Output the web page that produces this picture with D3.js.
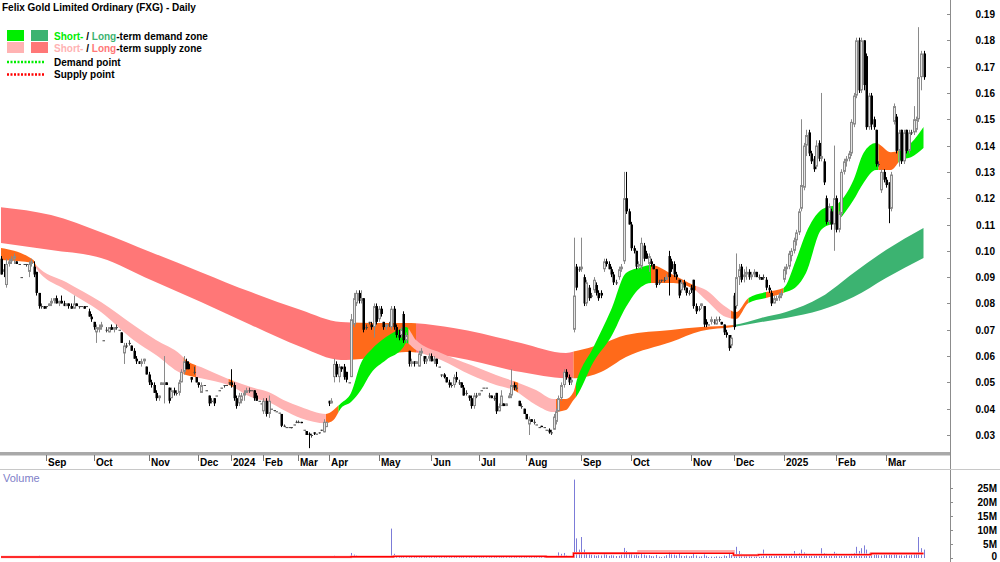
<!DOCTYPE html>
<html><head><meta charset="utf-8">
<script src="https://cdn.jsdelivr.net/npm/d3@7"></script>
<style>body{margin:0;background:#fff}svg{display:block;font-family:'Liberation Sans',Arial,sans-serif}</style>
</head><body><svg id="c" width="1000" height="562"></svg>
<script>
// ---------- DATA ----------
const title = "Felix Gold Limited Ordinary (FXG) - Daily";
const monthLabels = ["Sep","Oct","Nov","Dec","2024","Feb","Mar","Apr","May","Jun","Jul","Aug","Sep","Oct","Nov","Dec","2025","Feb","Mar"];
const monthStart = [18,37,59,79,92,105,119,131,151,172,191,210,232,252,276,293,313,334,354];
const priceTicks = [19,18,17,16,15,14,13,12,11,10,9,8,7,6,5,4,3]; // cents
const volTicks = [0,5,10,15,20,25]; // millions
const volTickLabels = ["0","5M","10M","15M","20M","25M"];

// daily bars [open, high, low, close] in cents
const bars = [
// Aug 2023
[9.7,9.8,9.1,9.1],[9.3,9.5,9.0,9.2],[8.7,9.7,8.6,9.5],[9.5,9.7,9.4,9.6],[9.6,9.8,9.5,9.7],[9.7,9.9,9.5,9.8],[9.6,9.6,9.5,9.5],[9.5,9.5,9.5,9.5],[9.0,9.0,9.0,9.0],[9.5,9.5,9.5,9.5],[9.5,9.5,9.4,9.5],[9.2,9.6,9.0,9.5],[9.5,9.7,9.4,9.6],[9.4,9.6,9.0,9.1],[9.2,9.2,8.3,8.4],[8.4,8.4,7.8,7.9],[7.9,8.0,7.8,7.9],[7.9,7.9,7.8,7.8],
// Sep 2023
[7.9,7.9,7.8,7.9],[7.9,8.0,7.9,8.0],[8.0,8.2,7.9,8.1],[8.1,8.2,8.0,8.2],[8.2,8.3,8.0,8.0],[8.0,8.1,7.9,8.1],[8.1,8.3,8.0,8.0],[8.0,8.1,7.9,7.9],[7.9,8.0,7.9,8.0],[8.0,8.0,7.8,7.9],[7.9,8.0,7.8,7.8],[7.8,8.3,7.8,8.0],[8.0,8.0,7.9,7.9],[7.9,7.9,7.8,7.9],[7.9,7.9,7.9,7.9],[7.9,7.9,7.8,7.8],[7.9,7.9,7.9,7.9],[7.7,7.8,7.5,7.5],[7.5,7.6,7.3,7.4],
// Oct 2023
[7.3,7.3,7.0,7.1],[6.9,7.2,6.5,7.1],[7.0,7.2,6.9,7.1],[7.1,7.3,7.0,7.2],[6.6,6.6,6.6,6.6],[7.0,7.1,6.9,7.0],[6.9,7.1,6.9,7.1],[7.1,7.2,7.0,7.0],[7.0,7.1,6.9,7.1],[7.1,7.2,7.0,7.1],[7.0,7.0,7.0,7.0],[6.9,6.9,6.5,6.5],[6.1,6.5,5.7,6.4],[6.4,6.5,6.3,6.4],[6.5,6.6,6.4,6.5],[6.4,6.4,6.2,6.2],[6.2,6.3,5.9,5.9],[5.9,6.0,5.7,5.8],[5.8,5.8,5.7,5.7],[5.7,5.9,5.6,5.8],[5.8,5.9,5.7,5.9],[5.6,5.6,5.3,5.3],
// Nov 2023
[5.3,5.4,4.9,5.0],[5.0,5.1,4.8,4.9],[4.9,5.0,4.6,4.6],[4.6,4.7,4.3,4.4],[4.4,4.5,4.3,4.5],[4.9,5.0,4.9,5.0],[4.9,6.0,4.2,5.0],[5.0,5.0,4.9,4.9],[4.8,4.8,4.2,4.3],[4.4,4.8,4.4,4.7],[4.7,4.8,4.5,4.6],[4.6,4.7,4.5,4.6],[4.6,5.1,4.5,5.0],[5.0,5.5,5.0,5.4],[5.4,6.0,5.3,5.8],[5.8,5.9,5.5,5.5],[5.7,5.8,5.5,5.5],[5.2,5.2,5.0,5.1],[5.4,5.6,5.3,5.4],[5.2,5.2,5.0,5.0],
// Dec 2023
[5.0,5.0,4.8,4.9],[4.6,5.0,4.6,4.9],[4.9,4.9,4.9,4.9],[4.7,4.7,4.7,4.7],[4.5,4.5,4.1,4.2],[4.3,4.4,4.2,4.3],[4.4,4.4,4.1,4.2],[4.5,4.5,4.5,4.5],[4.7,4.7,4.7,4.7],[4.8,4.8,4.8,4.8],[4.9,4.9,4.8,4.9],[4.9,4.9,4.9,4.9],[5.0,5.0,4.9,5.0],
// Jan 2024
[5.0,5.5,4.8,4.9],[4.9,5.0,4.3,4.4],[4.4,4.5,4.0,4.1],[4.2,4.6,4.1,4.5],[4.3,4.6,4.2,4.5],[4.5,4.7,4.3,4.6],[4.6,4.8,4.6,4.7],[4.7,4.8,4.6,4.7],[4.7,4.7,4.7,4.7],[4.7,4.7,4.3,4.4],[4.5,4.6,4.3,4.3],[4.3,4.3,4.3,4.3],[4.2,4.2,4.2,4.2],
// Feb 2024
[3.9,4.4,3.8,4.3],[4.3,4.4,3.7,3.8],[3.8,4.5,3.65,4.3],[4.0,4.0,4.0,4.0],[3.95,3.95,3.9,3.95],[3.9,3.9,3.9,3.9],[3.85,3.85,3.85,3.85],[3.8,3.8,3.3,3.35],[3.35,3.4,3.3,3.35],[3.3,3.3,3.3,3.3],[3.3,3.3,3.3,3.3],[3.3,3.3,3.25,3.3],[3.4,3.4,3.4,3.4],[3.5,3.55,3.45,3.5],
// Mar 2024
[3.5,3.55,3.45,3.5],[3.5,3.5,3.45,3.45],[3.2,3.2,3.2,3.2],[3.15,3.15,3.0,3.0],[3.05,3.1,2.5,3.0],[3.0,3.05,2.9,3.0],[3.1,3.1,3.0,3.05],[3.05,3.05,3.05,3.05],[3.1,3.1,3.05,3.1],[3.2,3.2,3.15,3.2],[3.1,3.6,3.1,3.5],[3.3,3.5,3.3,3.5],
// Apr 2024
[4.3,4.3,4.1,4.2],[4.2,4.4,4.2,4.3],[5.2,5.9,5.0,5.7],[5.7,5.8,5.2,5.3],[5.2,5.7,5.0,5.6],[5.6,5.6,5.4,5.5],[5.6,5.7,5.1,5.2],[5.4,5.4,5.0,5.1],[5.0,5.0,5.0,5.0],[5.2,7.6,5.2,7.4],[7.2,8.4,7.1,8.2],[8.0,8.5,7.9,8.4],[8.4,8.5,8.0,8.1],[8.1,8.5,8.0,8.2],[8.2,8.2,6.9,7.0],[7.1,7.2,7.0,7.1],[7.3,7.3,7.2,7.3],[7.2,7.3,7.0,7.1],[7.1,8.0,6.7,7.9],[7.9,8.0,7.2,7.3],
// May 2024
[7.4,7.9,7.3,7.8],[7.8,7.9,7.5,7.6],[7.3,7.3,7.0,7.1],[7.1,7.2,7.0,7.2],[7.2,7.3,7.1,7.2],[7.1,7.9,7.0,7.8],[7.8,7.9,7.0,7.1],[7.1,7.2,6.7,6.8],[6.8,7.0,6.6,6.7],[6.8,7.1,6.7,7.0],[7.6,7.7,6.5,6.6],[6.6,6.9,6.5,6.8],[6.2,6.2,5.6,5.7],[5.7,5.9,5.6,5.8],[5.8,5.8,5.6,5.7],[5.7,5.8,5.7,5.8],[5.6,6.2,5.6,6.1],[6.1,6.3,6.0,6.2],[6.0,6.0,5.7,5.8],[5.8,6.0,5.7,5.9],[5.9,6.1,5.8,6.0],
// Jun 2024
[6.0,6.1,5.8,5.8],[5.8,6.0,5.7,5.9],[5.9,5.9,5.6,5.7],[5.6,5.6,5.6,5.6],[5.3,5.3,5.2,5.3],[5.3,5.35,5.15,5.2],[5.2,5.2,5.0,5.0],[5.0,5.1,4.8,4.9],[4.9,5.0,4.8,4.9],[4.9,5.3,4.8,5.2],[5.2,5.4,5.0,5.1],[5.0,5.1,4.9,5.0],[5.0,5.0,4.8,4.8],[4.8,4.9,4.5,4.5],[4.6,4.7,4.5,4.6],[4.5,4.5,4.3,4.4],[4.4,4.5,4.0,4.1],[4.1,4.6,4.0,4.5],[4.5,4.6,4.4,4.5],
// Jul 2024
[4.5,4.6,4.5,4.6],[4.7,4.7,4.7,4.7],[4.8,4.8,4.8,4.8],[4.8,4.8,4.8,4.8],[4.5,4.6,4.4,4.5],[4.5,4.5,4.4,4.4],[4.4,4.5,4.3,4.4],[4.6,4.6,3.8,3.9],[3.9,4.2,3.9,4.1],[4.1,4.7,4.1,4.5],[4.2,4.2,4.1,4.1],[4.1,4.2,4.1,4.2],[4.4,4.6,4.4,4.5],[4.5,5.5,4.4,4.9],[4.9,5.0,4.7,4.8],[4.8,4.9,4.7,4.8],[4.3,4.3,4.1,4.1],[4.1,4.2,4.0,4.1],[4.0,4.0,3.8,3.8],
// Aug 2024
[3.8,3.8,3.6,3.6],[3.4,3.7,3.0,3.6],[3.6,3.6,3.5,3.5],[3.5,3.6,3.4,3.5],[3.4,3.4,3.4,3.4],[3.3,3.3,3.3,3.3],[3.35,3.35,3.3,3.3],[3.3,3.3,3.3,3.3],[3.2,3.2,3.2,3.2],[3.2,3.25,3.05,3.1],[3.1,3.2,3.0,3.1],[3.2,3.8,3.2,3.7],[3.5,4.0,3.4,3.9],[3.9,4.5,3.9,4.4],[4.4,5.0,4.3,4.9],[4.9,5.5,4.8,5.4],[5.4,5.5,5.1,5.2],[5.2,5.3,4.9,5.0],[5.0,5.2,4.9,5.1],[7.0,10.5,6.9,8.3],[9.4,9.5,8.5,8.6],[9.3,9.4,9.2,9.3],
// Sep 2024
[9.3,10.5,9.2,9.4],[9.0,9.1,7.9,8.0],[8.0,8.9,7.9,8.8],[8.6,8.7,8.1,8.2],[8.3,8.4,8.2,8.3],[8.5,9.0,8.4,8.9],[8.7,8.8,8.3,8.4],[8.4,8.5,8.1,8.2],[8.4,8.5,8.2,8.3],[9.3,9.7,9.2,9.6],[9.6,9.7,9.4,9.5],[9.5,9.6,9.3,9.3],[9.3,9.4,9.0,9.1],[9.1,9.2,8.7,8.8],[8.8,8.9,8.7,8.8],[9.0,9.4,8.9,9.3],[9.3,9.5,9.2,9.4],[9.6,13.0,9.5,12.0],[12.0,13.0,11.4,11.5],[11.5,11.6,11.0,11.0],
// Oct 2024
[11.0,11.1,10.0,10.1],[10.1,10.2,9.9,10.0],[10.0,10.0,9.3,9.4],[9.4,9.6,9.3,9.5],[9.4,10.5,9.3,10.3],[10.2,10.3,9.6,9.7],[9.9,10.0,9.7,9.7],[9.5,9.9,9.2,9.8],[9.6,9.7,9.4,9.5],[9.5,9.5,9.3,9.3],[9.3,9.3,8.6,8.7],[8.8,8.9,8.7,8.8],[8.9,8.9,8.8,8.9],[8.9,9.0,8.8,8.9],[8.9,9.1,8.9,9.0],[9.8,10.0,8.3,9.0],[9.6,9.7,9.2,9.3],[9.5,9.6,9.0,9.1],[9.1,9.2,8.9,9.0],[8.9,8.9,8.2,8.3],[8.5,8.9,8.4,8.8],[8.8,8.9,8.5,8.6],[8.6,8.6,8.3,8.4],[8.4,8.5,8.3,8.4],
// Nov 2024
[8.6,8.7,8.4,8.5],[8.9,8.9,7.8,7.9],[7.9,8.0,7.6,7.7],[7.8,7.9,7.7,7.8],[7.9,8.0,7.8,8.0],[7.9,7.9,7.1,7.2],[7.3,7.4,7.1,7.2],[7.2,7.2,7.2,7.2],[7.3,7.5,7.2,7.4],[7.3,7.4,7.2,7.3],[7.2,7.5,7.2,7.4],[7.4,7.5,7.3,7.4],[7.3,7.3,7.2,7.2],[7.2,7.2,6.8,6.9],[6.9,7.0,6.7,6.8],[6.8,6.8,6.2,6.3],[6.4,6.8,6.3,6.7],
// Dec 2024
[8.3,8.4,7.0,7.1],[7.9,9.9,7.8,9.0],[9.0,9.5,8.7,9.3],[9.4,9.5,8.8,8.9],[9.0,9.3,8.8,9.1],[9.1,9.4,8.9,9.2],[9.2,9.3,8.9,9.0],[9.0,9.2,8.9,9.1],[9.1,9.3,9.0,9.2],[9.2,9.2,9.0,9.0],[9.0,9.1,8.9,9.0],[9.0,9.0,8.9,8.9],[9.0,9.1,8.9,9.0],[8.9,9.0,8.5,8.6],[8.6,8.7,8.4,8.5],[8.4,8.5,7.9,8.0],[8.0,8.3,8.0,8.2],[8.1,8.3,8.1,8.2],[8.2,8.4,8.1,8.3],[8.3,8.5,8.2,8.4],
// Jan 2025
[8.9,9.4,8.8,9.3],[9.3,9.5,9.1,9.4],[9.4,10.0,9.3,9.9],[9.8,10.1,9.6,10.0],[10.0,10.5,9.9,10.4],[10.4,10.8,10.2,10.7],[10.7,11.6,10.6,11.5],[11.6,15.0,11.5,12.5],[12.4,14.1,12.3,14.0],[14.0,14.6,13.6,14.4],[14.5,14.6,13.6,13.7],[13.7,13.8,13.3,13.4],[13.5,13.6,13.0,13.1],[13.2,14.2,13.1,14.0],[14.1,14.2,13.4,13.5],[13.5,16.0,13.4,13.6],[13.4,13.5,12.5,12.6],[12.0,12.1,11.0,11.1],[11.1,11.8,11.0,11.7],[11.5,11.6,10.8,11.0],[11.0,14.0,10.0,12.0],
// Feb 2025
[12.0,12.1,10.7,10.8],[10.8,11.5,10.7,11.4],[11.4,13.1,11.3,13.0],[13.0,13.5,12.9,13.4],[13.4,13.6,13.2,13.5],[13.5,13.8,13.4,13.7],[13.7,15.0,13.6,14.9],[14.8,16.0,14.7,15.9],[15.9,18.1,15.8,18.0],[18.0,18.1,16.0,16.1],[16.1,18.1,16.0,18.0],[18.0,18.0,16.1,16.3],[17.4,17.5,14.6,14.7],[14.7,16.0,14.6,15.9],[15.9,16.0,14.6,14.8],[15.0,15.1,14.6,14.7],[14.6,14.6,13.2,13.3],[13.3,13.4,13.2,13.3],[12.3,13.1,12.2,13.0],[13.0,13.1,12.6,12.7],
// Mar 2025
[12.7,12.8,12.4,12.5],[12.6,12.6,11.05,11.6],[11.6,13.0,11.5,12.9],[14.9,15.6,14.8,15.5],[15.1,15.2,13.7,13.8],[13.8,14.6,13.2,14.5],[14.6,14.6,13.3,13.4],[13.4,14.6,13.3,14.5],[14.6,14.6,13.7,13.8],[13.8,14.6,13.7,14.5],[14.5,14.6,14.4,14.5],[14.5,15.5,14.4,15.0],[14.6,15.1,14.5,15.0],[15.0,18.5,14.9,16.6],[16.6,17.6,16.1,17.5],[17.5,17.6,16.5,16.6]
];

// daily volume, millions
const volume = [
0.2,0.3,0.1,0.2,0.1,0.1,0.1,0.05,0.1,0.1,0.2,0.1,0.3,0.2,0.6,0.8,0.3,0.2,
0.2,0.4,0.2,0.1,0.3,0.1,0.2,0.1,0.1,0.2,0.1,0.3,0.1,0.1,0.05,0.1,0.2,0.3,0.4,
0.3,0.5,0.2,0.1,0.05,0.1,0.2,0.1,0.1,0.1,0.05,0.4,0.3,0.2,0.1,0.4,0.3,0.2,0.1,0.2,0.3,0.4,
0.4,0.3,0.5,0.4,0.2,0.1,0.5,0.1,0.4,0.3,0.2,0.1,0.3,0.4,0.6,0.3,0.3,0.1,0.2,0.2,
0.2,0.3,0.05,0.05,0.4,0.2,0.3,0.05,0.05,0.05,0.1,0.05,0.1,
0.3,0.4,0.5,0.3,0.2,0.2,0.1,0.1,0.05,0.3,0.2,0.05,0.05,
0.3,0.3,0.4,0.05,0.05,0.05,0.05,0.3,0.1,0.05,0.05,0.05,0.05,0.1,
0.1,0.1,0.05,0.3,0.4,0.1,0.1,0.05,0.05,0.1,0.5,0.4,
0.1,0.2,0.8,0.5,0.4,0.2,0.4,0.3,0.05,1.8,1.2,0.9,0.6,0.4,0.7,0.2,0.1,0.2,0.6,0.5,
0.4,0.3,0.3,0.2,0.2,10.5,1.5,0.6,0.4,0.3,0.6,0.3,0.9,0.4,0.2,0.2,0.5,0.4,0.3,0.2,0.3,
0.4,0.3,0.4,0.1,0.2,0.2,0.3,0.5,0.2,0.4,0.3,0.2,0.3,0.5,0.3,0.3,0.6,0.5,0.2,
0.2,0.05,0.05,0.05,0.2,0.1,0.2,0.7,0.3,0.6,0.1,0.1,0.3,0.9,0.4,0.2,0.4,0.2,0.4,
0.5,0.6,0.2,0.3,0.05,0.05,0.1,0.05,0.05,0.3,0.2,0.6,0.8,2.0,1.5,1.8,0.9,0.7,0.5,28,7.0,3.0,
7.5,3.0,2.0,1.5,1.2,1.0,0.8,1.0,0.9,1.6,1.2,0.8,1.0,0.9,0.7,0.8,1.2,3.6,2.5,1.5,
1.4,1.0,1.2,0.8,1.5,1.2,0.9,1.0,0.7,0.6,1.1,0.5,0.4,0.6,1.0,2.0,1.3,1.2,0.9,1.5,0.8,0.7,0.9,0.6,
0.7,1.4,0.9,0.5,0.6,1.3,0.8,0.3,0.5,0.4,0.6,0.5,0.4,0.9,0.7,1.6,1.0,
1.2,4.0,2.5,1.5,1.0,0.8,0.9,0.6,0.5,0.6,0.4,0.5,3.0,1.2,1.4,0.8,0.6,0.7,0.9,1.0,
1.2,1.0,1.4,1.5,2.5,1.2,1.8,3.0,2.0,1.5,1.2,0.9,1.0,1.4,1.1,3.5,1.8,1.5,1.2,1.0,2.2,
1.6,1.2,1.4,1.0,0.9,1.2,1.5,1.8,4.0,2.5,3.5,4.5,3.0,1.8,1.5,1.2,1.4,1.0,0.9,1.2,
1.0,1.3,1.1,1.5,1.2,0.9,1.0,0.8,1.1,0.9,1.2,1.5,1.8,7.5,3.5,3.0
];

// volume averages (bar index -> millions)
const volAvgIdx = [0,140,157,218,229,293,303,348,369];
const volAvgVal = [0.35,0.45,0.6,0.45,1.7,1.0,1.2,1.6,1.6];
const volAvg2Idx = [0,140,157,218,229,255,293,303,348,369];
const volAvg2Val = [0.35,0.45,0.6,0.45,1.7,2.4,1.0,1.2,1.6,1.6];

// long-term zone (bar index, upper, lower in cents)
const longIdx = [0,20,40,60,80,100,120,136,148,162,181,208,226,230,240,250,268,280,293,304,314,328,341,354,369];
const longHi  = [11.66,11.36,10.71,9.95,9.19,8.43,7.75,7.29,7.26,7.26,7.07,6.50,6.12,6.19,6.46,6.80,6.99,7.10,7.18,7.45,7.67,8.24,9.16,10.03,10.87];
const longLo  = [10.30,10.03,9.73,8.89,8.05,7.18,6.34,5.85,5.93,6.15,5.96,5.39,5.16,5.16,5.39,5.96,6.53,6.95,7.10,7.29,7.45,7.75,8.24,8.97,9.73];
// short-term zone
const shortIdx = [0,13,14,26,40,53,62,72,74,80,92,100,107,113,120,130,133,136,140,144,148,154,161,162,166,176,188,198,205,214,221,226,229,230,237,244,250,256,260,269,277,282,290,294,299,306,313,318,322,328,335,341,345,350,356,360,364,369];
const shortHi  = [10.11,9.65,9.46,8.81,8.05,7.18,6.61,6.04,5.85,5.58,5.09,4.82,4.63,4.33,4.06,3.80,3.95,4.21,4.60,5.74,6.23,6.72,7.07,7.10,6.61,6.12,5.66,5.28,5.05,4.71,4.37,4.37,4.63,4.97,6.34,7.75,9.16,9.38,9.46,9.08,8.70,8.51,7.86,7.67,8.21,8.43,8.59,9.65,10.68,11.55,11.82,12.69,13.72,14.10,13.75,13.83,14.10,14.71];
const shortLo  = [9.65,9.54,9.35,8.51,7.67,6.61,6.04,5.35,5.28,5.16,4.86,4.44,4.25,3.95,3.64,3.45,3.57,4.02,4.25,4.71,5.35,5.85,6.34,6.50,6.23,5.85,5.28,4.90,4.71,4.14,3.87,3.95,4.33,4.44,5.77,6.72,7.86,8.62,8.78,8.78,8.55,8.13,7.48,7.41,8.02,8.21,8.40,8.62,9.16,10.79,11.17,11.93,12.58,13.07,13.07,13.45,13.56,13.91];

// zone state runs: [fromBar, toBar, state]  S=supply, N=neutral, D=demand
const longRuns = [[0,140,"S"],[140,166,"N"],[166,229,"S"],[229,293,"N"],[293,369,"D"]];
const shortRuns = [[0,14,"N"],[14,73,"S"],[73,78,"N"],[78,91,"S"],[91,93,"N"],[93,130,"S"],[130,135,"N"],[135,163,"D"],[163,205,"S"],[205,207,"N"],[207,222,"S"],[222,230,"N"],[230,260,"D"],[260,278,"N"],[278,292,"S"],[292,299,"N"],[299,306,"D"],[306,313,"N"],[313,333,"D"],[333,335,"N"],[335,351,"D"],[351,359,"N"],[359,369,"D"]];

// ---------- STYLE ----------
const C = {
  shortD:"#00ee00", longD:"#3cb371", shortS:"#ffb3b3", longS:"#ff7777", neutral:"#ff6a1a",
  axis:"#8c8c8c", upStroke:"#8a8a8a", upFill:"#e4e4e4", down:"#000", vol:"#7c7cd8"
};

const svg = d3.select("#c");
const defs = svg.append("defs");
const N = bars.length;
const x = d3.scaleLinear().domain([0, N-1]).range([1, 1 + (N-1)*2.5]);
const y = d3.scaleLinear().domain([3, 19]).range([435, 14]);
const yv = d3.scaleLinear().domain([0, 25]).range([558, 488]);

// ---------- BANDS ----------
const gBands = svg.append("g");
function drawBand(idx, hi, lo, runs, colors, id){
  const pts = idx.map((d,k)=>({i:d, hi:hi[k], lo:lo[k]}));
  const area = d3.area().x(d=>x(d.i)).y0(d=>y(d.lo)).y1(d=>y(d.hi)).curve(d3.curveMonotoneX);
  const p = area(pts);
  runs.forEach((r,k)=>{
    const cid = id + k;
    const x0 = r[0]===0 ? 0 : x(r[0]);
    const x1 = r[1]===N-1 ? 940 : x(r[1]);
    defs.append("clipPath").attr("id",cid).append("rect")
      .attr("x",x0).attr("y",0).attr("width",x1-x0).attr("height",452);
    gBands.append("path").attr("d",p).attr("fill",colors[r[2]]).attr("clip-path",`url(#${cid})`);
  });
}
drawBand(longIdx,longHi,longLo,longRuns,{S:C.longS,N:C.neutral,D:C.longD},"lc");
drawBand(shortIdx,shortHi,shortLo,shortRuns,{S:C.shortS,N:C.neutral,D:C.shortD},"sc");

// ---------- CANDLES ----------
const gC = svg.append("g");
bars.forEach((b,i)=>{
  const [o,h,l,c] = b;
  const cx = Math.round(x(i));
  const up = c > o;
  const col = up ? C.upStroke : (c===o ? "#444" : C.down);
  gC.append("line").attr("x1",cx+0.5).attr("x2",cx+0.5).attr("y1",y(h)).attr("y2",y(l))
    .attr("stroke",col).attr("stroke-width",1);
  const top = y(Math.max(o,c)), hgt = Math.max(1, Math.abs(y(o)-y(c)));
  if (up) {
    gC.append("rect").attr("x",cx-0.5).attr("y",top+0.5).attr("width",2).attr("height",Math.max(0.5,hgt-1))
      .attr("fill",C.upFill).attr("stroke",col).attr("stroke-width",1);
  } else {
    gC.append("rect").attr("x",cx-0.5).attr("y",top).attr("width",2.5).attr("height",hgt)
      .attr("fill",col);
  }
});

// ---------- PRICE AXIS ----------
svg.append("rect").attr("x",0).attr("y",452).attr("width",951).attr("height",3.5).attr("fill","#a9a9a9");
svg.append("line").attr("x1",950.5).attr("x2",950.5).attr("y1",0).attr("y2",562).attr("stroke",C.axis);
svg.append("line").attr("x1",0).attr("x2",1000).attr("y1",469.5).attr("y2",469.5).attr("stroke","#c8c8c8");
priceTicks.forEach(t=>{
  const yy = Math.round(y(t))+0.5;
  svg.append("line").attr("x1",947).attr("x2",950).attr("y1",yy).attr("y2",yy).attr("stroke",C.axis);
  svg.append("text").attr("x",995).attr("y",yy+3.5).attr("text-anchor","end")
    .attr("font-size","10px").attr("font-weight","bold").attr("fill","#000")
    .text(d3.format(".2f")(t/100));
});

// ---------- DATE AXIS ----------
monthStart.forEach((m,k)=>{
  const tx = Math.round(x(m)) + 0.5;
  svg.append("line").attr("x1",tx).attr("x2",tx).attr("y1",455).attr("y2",461).attr("stroke","#777");
  svg.append("text").attr("x",tx+1.5).attr("y",466).attr("font-size","10px").attr("font-weight","bold")
    .attr("fill","#000").text(monthLabels[k]);
});

// ---------- VOLUME ----------
const gV = svg.append("g");
volume.forEach((v,i)=>{
  const cx = Math.round(x(i)) + 0.5;
  gV.append("line").attr("x1",cx).attr("x2",cx).attr("y1",yv(0)).attr("y2",Math.min(yv(0)-1,yv(v)))
    .attr("stroke",C.vol).attr("stroke-width",1);
});
const avgLine = d3.line().x(d=>x(d[0])).y(d=>yv(d[1])).curve(d3.curveStepAfter);
svg.append("path").attr("d",avgLine(volAvg2Idx.map((d,k)=>[d,volAvg2Val[k]])))
  .attr("fill","none").attr("stroke","#ffaaaa").attr("stroke-width",2.5);
svg.append("path").attr("d",avgLine(volAvgIdx.map((d,k)=>[d,volAvgVal[k]])))
  .attr("fill","none").attr("stroke","#ff0000").attr("stroke-width",1.3);
svg.append("text").attr("x",3).attr("y",482).attr("font-size","11px").attr("fill","#8080c8").text("Volume");
volTicks.forEach((t,k)=>{
  const yy = Math.round(yv(t))+0.5;
  svg.append("line").attr("x1",950).attr("x2",953).attr("y1",yy).attr("y2",yy).attr("stroke",C.axis);
  svg.append("text").attr("x",997).attr("y",Math.min(560,yy+3.5)).attr("text-anchor","end")
    .attr("font-size","10px").attr("font-weight","bold").attr("fill","#000").text(volTickLabels[k]);
});

// ---------- TITLE & LEGEND ----------
svg.append("text").attr("x",2).attr("y",11).attr("font-size","10px").attr("font-weight","bold").text(title);
const lg = svg.append("g").attr("font-size","10px").attr("font-weight","bold");
lg.append("rect").attr("x",7).attr("y",30).attr("width",17).attr("height",11).attr("fill",C.shortD);
lg.append("rect").attr("x",31).attr("y",30).attr("width",17).attr("height",11).attr("fill",C.longD);
lg.append("rect").attr("x",7).attr("y",42).attr("width",17).attr("height",11).attr("fill",C.shortS);
lg.append("rect").attr("x",31).attr("y",42).attr("width",17).attr("height",11).attr("fill",C.longS);
const t1 = lg.append("text").attr("x",54).attr("y",39.5);
t1.append("tspan").attr("fill",C.shortD).text("Short-");
t1.append("tspan").attr("fill","#000").text(" / ");
t1.append("tspan").attr("fill",C.longD).text("Long");
t1.append("tspan").attr("fill","#000").text("-term demand zone");
const t2 = lg.append("text").attr("x",54).attr("y",52);
t2.append("tspan").attr("fill",C.shortS).text("Short-");
t2.append("tspan").attr("fill","#000").text(" / ");
t2.append("tspan").attr("fill",C.longS).text("Long");
t2.append("tspan").attr("fill","#000").text("-term supply zone");
lg.append("line").attr("x1",7).attr("x2",45).attr("y1",62).attr("y2",62).attr("stroke","#00ee00")
  .attr("stroke-width",2.5).attr("stroke-dasharray","2,1.5");
lg.append("line").attr("x1",7).attr("x2",45).attr("y1",74.5).attr("y2",74.5).attr("stroke","#ff0000")
  .attr("stroke-width",2.5).attr("stroke-dasharray","2,1.5");
lg.append("text").attr("x",54).attr("y",65.5).attr("fill","#000").text("Demand point");
lg.append("text").attr("x",54).attr("y",78).attr("fill","#000").text("Supply point");
</script></body></html>
